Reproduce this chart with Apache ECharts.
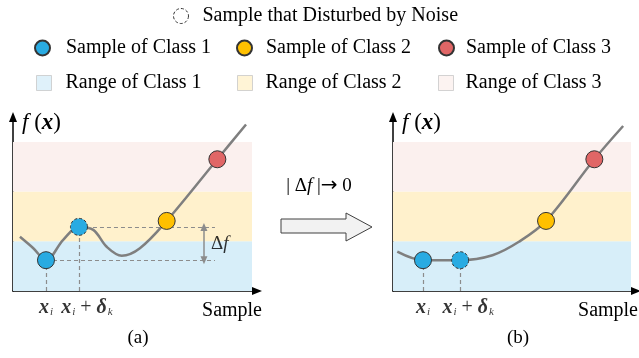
<!DOCTYPE html>
<html><head><meta charset="utf-8">
<script src="https://cdn.jsdelivr.net/npm/echarts@6/dist/echarts.min.js"></script>
<style>html,body{margin:0;padding:0;background:#fff}#c{width:639px;height:358px}</style>
</head><body><div id="c"></div>
<script>
const bandRanges = [[0, 1], [1, 2], [2, 3]];
const bandNames = ['Range of Class 1', 'Range of Class 2', 'Range of Class 3'];
const classNames = ['Sample of Class 1', 'Sample of Class 2', 'Sample of Class 3'];
const noiseName = 'Sample that Disturbed by Noise';
// panel (a)
const curveA = [[0.29,1.09],[0.85,0.86],[1.38,0.62],[2.10,1.03],[2.76,1.29],[3.36,1.23],[3.92,0.89],[4.55,0.71],[5.31,0.86],[6.43,1.41],[8.55,2.65],[9.75,3.35]];
const classA = [[1.38,0.62],[6.43,1.41],[8.55,2.65]];
const noiseA = [2.76,1.29];
const guideEndA = 8.45;
const deltaXA = 7.99;
// panel (b)
const curveB = [[0.18,0.79],[1.26,0.62],[2.82,0.62],[4.18,0.72],[5.29,0.99],[6.43,1.41],[8.46,2.65],[9.67,3.32]];
const classB = [[1.26,0.62],[6.43,1.41],[8.46,2.65]];
const noiseB = [2.82,0.62];
const panelLabels = ['(a)', '(b)'];

// ---------- styling ----------
const FONT = '"Liberation Serif","Times New Roman",serif';
const pointColors = ['#29abe2', '#ffc000', '#e06666'];
const bandColors = ['#d7eef9', '#fff1cc', '#fbf0ee'];
const guideStyle = {type: [4, 3], color: '#8c8c8c', width: 1.2};
const subRich = {
  b: {fontFamily: FONT, fontStyle: 'italic', fontWeight: 'bold', fontSize: 20, color: '#000'},
  s: {fontFamily: FONT, fontStyle: 'italic', fontSize: 11, color: '#000', verticalAlign: 'bottom', padding: [0, 0, 0, 1]},
  n: {fontFamily: FONT, fontSize: 20, color: '#000'},
  i: {fontFamily: FONT, fontStyle: 'italic', fontSize: 20, color: '#000'}
};

function axisPair(k) {
  const line = {show: true, symbol: ['none', 'triangle'], symbolSize: [8, 10], symbolOffset: [0, 5],
    lineStyle: {color: '#000', width: 1.5}};
  return {
    x: {type: 'value', gridIndex: k, min: 0, max: 10, axisLine: line, axisTick: {show: false},
      axisLabel: {show: false}, splitLine: {show: false},
      name: 'Sample', nameLocation: 'end', nameGap: k === 0 ? 10 : 7,
      nameTextStyle: {fontFamily: FONT, fontSize: 20, color: '#000', align: 'right', verticalAlign: 'top', padding: [10, 0, 0, 0]}},
    y: {type: 'value', gridIndex: k, min: 0, max: 3.4, axisLine: line, axisTick: {show: false},
      axisLabel: {show: false}, splitLine: {show: false},
      name: '{i|f}{n| (}{b|x}{n|)}', nameLocation: 'end', nameGap: -1,
      nameTextStyle: {align: 'left', verticalAlign: 'middle', padding: [0, 0, 0, 9],
        rich: {
          i: {fontFamily: FONT, fontStyle: 'italic', fontSize: 23, color: '#000'},
          n: {fontFamily: FONT, fontSize: 23, color: '#000'},
          b: {fontFamily: FONT, fontStyle: 'italic', fontWeight: 'bold', fontSize: 23, color: '#000'}
        }}}
  };
}

function panelSeries(k, curve, cls, noise, guideEnd, deltaX) {
  const ax = {xAxisIndex: k, yAxisIndex: k};
  const s = [];
  bandNames.forEach((nm, i) => s.push(Object.assign({
    type: 'scatter', name: nm, data: [], itemStyle: {color: bandColors[i]}, z: 1,
    markArea: {silent: true, itemStyle: {color: bandColors[i]},
      data: [[{yAxis: bandRanges[i][0]}, {yAxis: bandRanges[i][1]}]]}
  }, ax)));
  const guides = [
    [{coord: [cls[0][0], 0]}, {coord: cls[0]}],
    [{coord: [noise[0], 0]}, {coord: noise}]
  ];
  if (guideEnd != null) {
    guides.push([{coord: cls[0]}, {coord: [guideEnd, cls[0][1]]}]);
    guides.push([{coord: noise}, {coord: [guideEnd, noise[1]]}]);
  }
  s.push(Object.assign({type: 'scatter', name: 'guides', data: [], z: 2,
    markLine: {silent: true, symbol: 'none', label: {show: false}, lineStyle: guideStyle, data: guides}}, ax));
  if (deltaX != null) {
    s.push(Object.assign({type: 'scatter', name: 'delta', z: 2, symbolSize: 0,
      data: [[deltaX, (cls[0][1] + noise[1]) / 2]],
      label: {show: true, position: 'right', distance: 7, formatter: '{n|Δ}{i|f}',
        rich: {n: {fontFamily: FONT, fontSize: 19, color: '#000'}, i: {fontFamily: FONT, fontStyle: 'italic', fontSize: 19, color: '#000'}}},
      markLine: {silent: true, symbol: ['triangle', 'triangle'], symbolSize: [7, 8], label: {show: false},
        lineStyle: {type: 'solid', color: '#8c8c8c', width: 1.5},
        data: [[{coord: [deltaX, cls[0][1]]}, {coord: [deltaX, noise[1]]}]]}}, ax));
  }
  s.push(Object.assign({type: 'line', name: 'f(x)', data: curve, smooth: 0.35, symbol: 'none', z: 3,
    lineStyle: {color: '#7f7f7f', width: 2.5}}, ax));
  classNames.forEach((nm, i) => s.push(Object.assign({type: 'scatter', name: nm, data: [cls[i]],
    symbolSize: 17, z: 5, itemStyle: {color: pointColors[i], borderColor: '#333', borderWidth: 1, opacity: 1}}, ax)));
  s.push(Object.assign({type: 'scatter', name: noiseName, data: [noise], symbolSize: 17, z: 5,
    itemStyle: {color: pointColors[0], borderColor: '#333', borderWidth: 1, borderType: [3, 2], opacity: 1}}, ax));
  s.push(Object.assign({type: 'scatter', name: 'ticks', symbolSize: 0, z: 6,
    data: [[cls[0][0], 0], [noise[0], 0]],
    label: {show: true, position: 'bottom', distance: 7,
      formatter: p => p.dataIndex === 0 ? '{b|x}{s|i}' : '{b|x}{s|i}{n| + }{b|δ}{s|k}',
      rich: subRich},
    labelLayout: p => p.dataIndex === 1 ? {dx: 8} : {}}, ax));
  return s;
}

const A = axisPair(0), B = axisPair(1);
const legendBase = {orient: 'horizontal', padding: 0, selectedMode: false,
  textStyle: {fontFamily: FONT, fontSize: 20, color: '#000'}};
function lg(name, left, top, icon, w, extra, pad) {
  const item = {name: name, icon: icon};
  if (extra) item.itemStyle = extra;
  return Object.assign({}, legendBase, {left: left, top: top, itemWidth: w, itemHeight: w, data: [item],
    textStyle: Object.assign({}, legendBase.textStyle, {padding: [0, 0, 0, pad]})});
}
const circleLefts = [34, 236, 438];
const circlePads = [11, 9, 7];
const rectLefts = [36, 237, 438];
const rectPads = [9, 8, 7];
const legends = [lg(noiseName, 173, 6, 'circle', 15, {color: '#fff', borderColor: '#333', borderWidth: 1, borderType: [3, 2]}, 9)];
classNames.forEach((nm, i) => legends.push(lg(nm, circleLefts[i], 38, 'circle', 15, null, circlePads[i])));
bandNames.forEach((nm, i) => legends.push(lg(nm, rectLefts[i], 73, 'rect', 15, {color: bandColors[i], borderColor: '#c8c8c8', borderWidth: 1}, rectPads[i])));

const option = {
  animation: false,
  backgroundColor: '#fff',
  grid: [
    {left: 13, top: 122, width: 239, height: 169},
    {left: 393, top: 122, width: 240, height: 169}
  ],
  xAxis: [A.x, B.x],
  yAxis: [A.y, B.y],
  legend: legends,
  series: panelSeries(0, curveA, classA, noiseA, guideEndA, deltaXA)
    .concat(panelSeries(1, curveB, classB, noiseB, null, null)),
  graphic: [
    {type: 'polygon', shape: {points: [[281,219],[346,219],[346,213],[372,227],[346,241],[346,233],[281,233]]},
      style: {fill: '#f2f2f2', stroke: '#404040', lineWidth: 1}},
    {type: 'text', x: 319, y: 186, style: {text: '{n|| Δ}{i|f}{n| |}{a|→}{n| 0}', align: 'center', verticalAlign: 'middle',
      rich: {n: {fontFamily: FONT, fontSize: 19, color: '#000'}, a: {fontFamily: '"DejaVu Sans",sans-serif', fontSize: 20, color: '#000'},
        i: {fontFamily: FONT, fontStyle: 'italic', fontSize: 19, color: '#000'}}}},
    {type: 'text', x: 138, y: 338, style: {text: panelLabels[0], font: '19px ' + FONT, fill: '#000', align: 'center', verticalAlign: 'middle'}},
    {type: 'text', x: 518, y: 338, style: {text: panelLabels[1], font: '19px ' + FONT, fill: '#000', align: 'center', verticalAlign: 'middle'}}
  ]
};
const chart = echarts.init(document.getElementById('c'), null, {renderer: 'canvas'});
chart.setOption(option);
</script>
</body></html>
